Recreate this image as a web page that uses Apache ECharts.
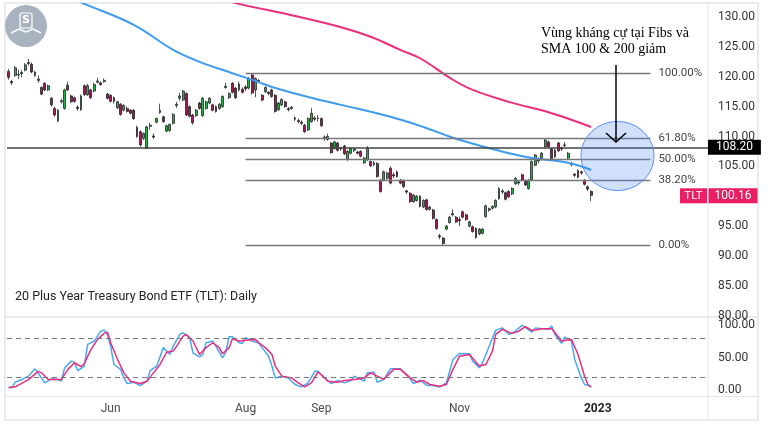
<!DOCTYPE html>
<html>
<head>
<meta charset="utf-8">
<title>TLT Daily</title>
<script src="https://cdn.jsdelivr.net/npm/echarts@6/dist/echarts.min.js"></script>
<style>
  html, body { margin: 0; padding: 0; background: #fff; }
  #chart { width: 768px; height: 432px; }
</style>
</head>
<body>
<div id="chart"></div>
<script>
// trading days (category axis), weekends and US market holidays skipped
const holidays = ['2022-05-30', '2022-06-20', '2022-07-04', '2022-09-05', '2022-11-24',
  '2022-12-26', '2023-01-02', '2023-01-16', '2023-02-20'];
function tradingDays(start, count) {
  const out = [];
  const d = new Date(start + 'T00:00:00Z');
  while (out.length < count) {
    const s = d.toISOString().slice(0, 10);
    const wd = d.getUTCDay();
    if (wd !== 0 && wd !== 6 && holidays.indexOf(s) < 0) out.push(s);
    d.setUTCDate(d.getUTCDate() + 1);
  }
  return out;
}
const dates = tradingDays('2022-04-18', 213);

const monthTicks = ['2022-06-01', '2022-08-01', '2022-09-01', '2022-11-01', '2023-01-03'];
const monthNames = ['Jun', 'Aug', 'Sep', 'Nov', '2023'];

// daily candles: [open, close, low, high]
const candles = [
  [120.9,119.9,119.5,121.3],[119.2,119.0,118.6,119.5],[120.2,121.5,120.0,121.8],[120.4,120.3,119.6,121.2],[120.5,120.7,119.9,121.1],
  [121.1,122.0,120.9,122.3],[122.2,122.4,121.9,123.0],[122.1,120.8,120.6,122.4],[120.2,120.8,120.0,121.0],[119.6,119.4,119.0,120.2],
  [118.2,117.1,116.9,118.4],[118.9,117.8,117.6,119.1],[117.8,118.5,117.6,118.7],[116.4,115.3,115.0,116.6],[114.7,113.6,113.3,115.0],
  [112.6,114.4,112.4,114.6],[115.8,116.0,115.5,116.3],[114.7,117.8,114.5,118.0],[118.6,117.8,117.6,119.2],[116.8,115.8,115.6,117.0],
  [116.5,115.9,115.6,116.7],[114.9,114.7,114.3,115.2],[114.5,116.8,114.3,117.0],[118.5,117.0,116.8,118.7],[117.0,118.5,116.8,118.8],
  [117.8,116.5,116.3,118.0],[117.6,118.7,117.4,119.0],[119.1,119.3,118.9,119.8],[119.0,118.7,118.5,119.2],[119.2,119.4,119.0,119.7],
  [117.1,116.4,116.2,117.3],[116.9,115.9,115.7,117.1],[116.5,115.9,115.5,116.7],[114.8,115.8,114.6,116.0],[115.4,113.7,113.5,115.6],
  [114.4,115.2,114.2,115.4],[114.7,114.2,114.0,115.0],[114.4,113.9,113.7,114.6],[114.4,113.0,112.8,114.6],[111.5,110.0,109.8,111.8],
  [110.8,108.6,108.3,111.0],[109.7,110.5,109.4,110.7],[108.0,111.6,107.9,111.8],[111.7,111.9,111.1,112.3],[110.1,109.9,109.6,110.5],
  [112.4,113.0,112.2,113.2],[114.0,114.4,113.8,115.5],[113.3,112.5,112.3,113.5],[110.9,111.8,110.7,112.0],[111.0,112.0,110.8,112.2],
  [112.2,113.7,112.0,113.9],[115.2,115.4,114.8,115.8],[116.4,116.8,116.0,117.3],[116.1,117.6,115.9,117.8],[117.2,113.6,113.4,117.4],
  [115.0,113.4,113.2,115.2],[113.6,112.3,112.0,113.8],[113.5,114.4,113.3,114.6],[115.6,114.7,114.5,115.8],[113.5,116.4,113.3,116.6],
  [114.7,115.8,114.5,116.0],[115.6,116.4,115.4,116.6],[115.3,114.4,114.2,115.5],[115.0,114.2,114.0,115.2],[114.7,115.4,114.5,115.6],
  [115.0,116.7,114.8,116.9],[118.2,118.4,118.0,119.0],[116.5,117.2,116.3,117.4],[118.9,117.4,117.2,119.1],[118.1,116.5,116.3,118.3],
  [117.8,118.8,117.5,119.2],[117.9,117.4,117.2,118.2],[118.3,118.0,117.6,118.6],[118.1,119.7,117.9,120.0],[120.3,117.3,117.0,120.63],
  [117.8,119.7,116.6,119.9],[119.4,119.2,118.9,119.6],[116.9,116.1,115.9,117.1],[117.5,118.2,117.3,118.4],[117.4,117.2,116.9,117.6],
  [117.8,116.7,116.5,118.0],[116.9,114.2,114.0,117.1],[114.5,115.6,114.3,115.8],[115.3,116.2,115.1,116.4],[115.8,115.0,114.8,116.0],
  [114.7,114.5,114.2,114.9],[114.9,114.7,114.5,115.1],[113.1,112.9,112.6,113.4],[112.7,112.5,112.2,113.0],[112.4,112.2,111.9,112.7],
  [111.9,110.8,110.6,112.1],[111.1,113.0,110.9,113.2],[112.5,113.9,112.3,114.8],[113.1,112.9,112.6,113.4],[113.0,113.1,112.5,113.6],
  [113.0,111.8,111.6,113.2],[109.9,109.7,109.3,110.2],[109.5,110.0,109.3,110.5],[108.9,107.3,107.1,109.1],[108.0,109.1,107.8,109.3],
  [108.9,107.7,107.5,109.1],[108.1,107.9,107.6,108.3],[108.4,107.1,106.9,108.6],[106.2,107.5,105.9,107.7],[107.2,108.0,107.0,108.2],
  [107.7,107.9,107.4,108.1],[107.4,107.2,107.0,107.6],[107.5,106.7,106.5,107.7],[105.6,106.4,105.4,106.6],[106.1,108.0,105.9,108.4],
  [105.8,105.1,104.9,106.0],[105.3,105.6,105.0,105.9],[105.5,103.3,103.1,105.7],[102.7,100.8,100.6,102.9],[102.7,104.1,102.5,104.3],
  [103.0,103.9,102.8,104.1],[104.7,102.2,102.0,105.0],[103.6,103.4,103.0,104.0],[104.1,103.3,103.1,104.3],[102.7,102.2,102.0,102.9],
  [102.6,101.6,101.4,102.8],[100.9,100.7,100.4,101.1],[100.5,99.1,98.9,100.7],[99.1,100.2,98.9,100.4],[99.3,100.0,99.1,100.2],
  [100.0,98.3,98.1,100.2],[98.2,99.3,98.0,99.5],[99.4,97.8,97.6,99.6],[97.8,98.2,97.6,98.4],[97.7,96.3,96.1,97.9],
  [96.1,94.6,94.4,96.3],[93.4,93.2,92.8,93.7],[93.0,92.1,91.84,93.2],[94.5,95.0,94.3,95.2],[95.6,96.5,95.4,96.7],
  [96.9,97.1,96.6,97.8],[96.5,95.7,95.5,96.7],[96.1,95.9,95.0,96.6],[97.4,96.5,96.3,97.6],[96.9,96.1,95.9,97.1],
  [95.0,95.7,94.8,95.9],[94.9,94.1,93.9,95.1],[94.6,93.1,92.9,94.8],[93.7,94.5,93.5,94.7],[93.8,94.5,93.6,94.7],
  [96.6,98.4,96.4,98.6],[97.9,97.7,97.4,98.1],[98.0,98.3,97.8,98.5],[98.2,99.3,98.0,99.5],[99.6,101.3,99.4,101.5],
  [100.7,100.9,100.4,101.2],[100.6,99.5,99.3,100.8],[100.8,99.9,99.7,101.0],[100.4,101.3,100.2,101.5],[102.1,103.0,101.9,103.2],
  [102.2,102.4,101.9,102.7],[103.6,102.7,102.5,103.8],[102.6,101.9,101.7,102.8],[101.3,102.7,101.1,102.9],[102.7,105.8,102.5,106.0],
  [105.2,106.9,105.0,107.1],[105.9,106.1,105.5,106.5],[106.2,107.2,106.0,107.4],[108.3,109.4,108.1,109.7],[109.1,108.3,108.1,109.3],
  [107.9,106.2,106.0,108.1],[107.7,106.6,106.4,107.9],[108.9,107.6,107.4,109.1],[108.1,107.9,107.6,108.3],[108.6,108.5,108.2,109.1],
  [106.4,107.2,106.2,107.4],[105.5,105.3,105.0,105.7],[103.7,103.5,103.2,103.9],[104.3,103.2,103.0,104.5],[104.1,103.9,103.6,104.3],
  [102.7,102.0,101.8,102.9],[101.6,101.2,100.9,101.8],[100.8,100.16,99.2,101.0]
];

// moving averages: [day index, value]
const sma100 = [[0,137.5],[23,132.2],[38,128.7],[50,124.5],[58,122.5],[68,120.6],[76,119.1],[80,118.3],
  [91,116.6],[101,115.3],[116,113.3],[126,111.6],[135,109.8],[145,108.2],[152,107.2],[159,106.4],[170,105.6],[177,104.4]];
const sma200 = [[58,134.0],[70,132.2],[86,130.3],[101,128.3],[110,126.7],[119,124.5],[125,123.1],
  [135,119.5],[141,117.8],[152,115.8],[165,113.9],[177,111.6]];

// fibonacci retracement
const fibLevels = [120.63, 109.75, 106.24, 102.75, 91.84];
const fibLabels = ['100.00%', '61.80%', '50.00%', '38.20%', '0.00%'];
const fibStart = 72, fibEnd = 195;
const markPrice = 108.20;
const lastPrice = 100.16;
const symbolName = 'TLT';

// stochastic %K / %D
const stochK = [[0,5.4],[1,4],[2,12.5],[4,16.5],[6,21.6],[8,32.8],[9,26],[11,11.5],[13,17.6],[15,16.5],[16,14],
  [17,34],[19,44.5],[20,43],[21,30],[23,37],[24,70],[26,75],[28,90],[29,91.6],[30,85],[31,67],[32,39.4],
  [34,32],[35,19],[36,10.5],[38,12.5],[40,7.4],[42,14],[43,30],[45,37],[47,65],[48,60],[49,55],[50,67],
  [52,85],[53,87.6],[55,80],[56,57],[58,51],[59,54.6],[60,72.4],[62,75],[63,67],[65,49.5],[66,58],[67,81.5],
  [68,81.5],[70,72.4],[71,71.4],[72,80],[74,75],[76,72],[77,65],[79,52],[80,37],[81,19],[83,21.6],[85,19],
  [87,9],[89,5.4],[91,11.5],[93,29],[94,29],[96,19],[98,10.5],[100,15],[102,11.5],[104,15],[105,21.6],[106,19],
  [108,14],[109,26.7],[111,27.7],[112,12.5],[114,16.5],[116,32.8],[119,32.8],[121,24],[123,10.5],[125,15.5],
  [127,8],[129,7.4],[131,5],[133,11.5],[135,47],[137,56],[140,55.6],[141,44.5],[143,34.3],[144,42],[146,67],
  [148,91.6],[150,95],[152,85],[154,90],[156,99],[159,88.6],[160,95],[164,92.7],[165,97.7],[166,85],[168,71.4],
  [169,81],[171,75],[172,47],[174,19],[175,9],[176,8],[177,5]];
const stochD = [[0,4],[2,5.4],[6,16.5],[9,29],[10,26.7],[12,16.5],[14,16.5],[16,16.5],[18,32],[20,42],[22,36],
  [23,41],[25,62],[27,77.5],[29,86.6],[30,88.6],[31,72.4],[33,48],[35,26.7],[37,14],[40,10.5],[42,14],[44,26.7],
  [46,39.4],[48,58],[50,59.7],[51,67],[53,82.5],[54,85],[56,75],[58,54.6],[60,65],[62,72.4],[64,65],[65,55.6],
  [67,65],[68,78.5],[70,75],[73,76.5],[75,77.5],[76,72.4],[78,65],[80,54.6],[81,37],[83,21.6],[86,19],[88,11.5],
  [90,5.4],[92,11.5],[94,28],[95,24],[97,14],[100,12.5],[102,15],[105,16.5],[107,17.6],[108,19],[110,26.7],
  [112,21.6],[114,17],[117,32],[119,32],[122,19],[124,12.5],[126,15],[128,9],[131,6.4],[133,9],[135,32],[137,52],
  [140,54.6],[143,37],[145,39.4],[147,59.7],[148,85],[150,92.7],[153,86.6],[155,90],[157,96.8],[159,91],[162,93.7],
  [165,93.7],[166,87.6],[168,75],[171,77.5],[173,54.6],[175,21.6],[176,9],[177,5.4]];
const stochBands = [80, 20];

const axisFont = 'Roboto, "Liberation Sans", sans-serif';
const pink = '#e91e63';

const fibMarks = fibLevels.map((lv, k) => [
  { coord: [fibStart, lv], label: { formatter: fibLabels[k] } },
  { coord: [fibEnd, lv] }
]);

const chart = echarts.init(document.getElementById('chart'));

const option = {
  animation: false,
  backgroundColor: '#ffffff',
  grid: [
    { left: 7, width: 701, top: 4, height: 311.75, outerBoundsMode: 'none' },
    { left: 7, width: 701, top: 318, height: 79, outerBoundsMode: 'none' }
  ],
  xAxis: [
    {
      gridIndex: 0, type: 'category', data: dates, boundaryGap: true,
      axisLine: { show: false }, axisTick: { show: false }, axisLabel: { show: false }, splitLine: { show: false }
    },
    {
      gridIndex: 1, type: 'category', data: dates, boundaryGap: true,
      axisLine: { show: false }, axisTick: { show: false }, splitLine: { show: false },
      axisLabel: {
        margin: 6, fontSize: 12, color: '#4a4a4a', fontFamily: axisFont,
        interval: (idx, val) => monthTicks.indexOf(val) >= 0,
        formatter: val => {
          const k = monthTicks.indexOf(val);
          if (k < 0) return '';
          return monthNames[k] === '2023' ? '{b|2023}' : monthNames[k];
        },
        rich: { b: { fontWeight: 'bold', color: '#222', fontSize: 12, fontFamily: axisFont } }
      }
    }
  ],
  yAxis: [
    {
      gridIndex: 0, type: 'value', position: 'right', min: 80, max: 132.18, interval: 5, scale: true,
      axisLine: { show: false }, axisTick: { show: false }, splitLine: { show: false },
      axisLabel: {
        margin: 10, fontSize: 12, color: '#333', fontFamily: axisFont,
        formatter: v => (Math.abs(v % 5) < 1e-6 ? v.toFixed(2) : '')
      }
    },
    {
      gridIndex: 1, type: 'value', position: 'right', min: -10, max: 110, interval: 10,
      axisLine: { show: false }, axisTick: { show: false }, splitLine: { show: false },
      axisLabel: {
        margin: 10, fontSize: 12, color: '#333', fontFamily: axisFont,
        formatter: v => ([0, 50, 100].indexOf(Math.round(v * 1000) / 1000) >= 0 ? v.toFixed(2) : '')
      }
    }
  ],
  series: [
    {
      name: 'TLT', type: 'candlestick', xAxisIndex: 0, yAxisIndex: 0,
      data: candles, barWidth: 2.4,
      itemStyle: { color: '#2bb14c', color0: '#a3185a', borderColor: '#111', borderColor0: '#111', borderWidth: 0.7 },
      markLine: {
        silent: true, symbol: ['none', 'none'], animation: false,
        lineStyle: { color: '#777', width: 1.4, type: 'solid' },
        label: { position: 'end', distance: 8, fontSize: 11.5, color: '#444', fontFamily: axisFont },
        data: fibMarks.concat([
          {
            yAxis: markPrice,
            lineStyle: { color: '#444', width: 1.5, type: 'solid' },
            label: {
              position: 'end', distance: 0, formatter: markPrice.toFixed(2),
              backgroundColor: '#000', color: '#fff', padding: [2, 8, 1, 8], fontSize: 12, fontFamily: axisFont
            }
          }
        ])
      }
    },
    {
      name: 'SMA 100', type: 'line', xAxisIndex: 0, yAxisIndex: 0, data: sma100,
      smooth: 0.4, symbol: 'none', clip: true, lineStyle: { color: '#3d9bf0', width: 2 }, z: 3
    },
    {
      name: 'SMA 200', type: 'line', xAxisIndex: 0, yAxisIndex: 0, data: sma200,
      smooth: 0.4, symbol: 'none', clip: true, lineStyle: { color: '#ee2d7c', width: 2 }, z: 3
    },
    {
      name: '%K', type: 'line', xAxisIndex: 1, yAxisIndex: 1, data: stochK,
      symbol: 'none', lineStyle: { color: '#47a8f5', width: 1.5 },
      markLine: {
        silent: true, symbol: ['none', 'none'], label: { show: false },
        lineStyle: { color: '#787878', type: [5, 4], width: 1 },
        data: stochBands.map(v => ({ yAxis: v }))
      }
    },
    {
      name: '%D', type: 'line', xAxisIndex: 1, yAxisIndex: 1, data: stochD,
      symbol: 'none', lineStyle: { color: '#ee2d7c', width: 1.5 }
    }
  ]
};

chart.setOption(option);

// positions taken from the chart's own scales
const ctr = chart.convertToPixel({ gridIndex: 0 }, [185, 106.74]);
const yLast = chart.convertToPixel({ yAxisIndex: 0 }, lastPrice);
const frameC = '#e3e5ea';

chart.setOption({
  graphic: [
    { type: 'rect', shape: { x: 5, y: 3, width: 753, height: 417 }, style: { fill: 'none', stroke: frameC, lineWidth: 1.5 }, silent: true },
    { type: 'line', shape: { x1: 708, y1: 3, x2: 708, y2: 420 }, style: { stroke: frameC, lineWidth: 1 }, silent: true },
    { type: 'line', shape: { x1: 5, y1: 317, x2: 758, y2: 317 }, style: { stroke: frameC, lineWidth: 1.5 }, silent: true },
    { type: 'line', shape: { x1: 5, y1: 396.5, x2: 758, y2: 396.5 }, style: { stroke: frameC, lineWidth: 1 }, silent: true },
    // logo
    { type: 'circle', shape: { cx: 26, cy: 26, r: 21 }, style: { fill: '#a9b3c0' }, silent: true },
    { type: 'polyline', shape: { points: [[11, 33], [19, 29], [26, 32], [33, 29], [41, 33]] }, style: { stroke: '#fff', lineWidth: 1.5, fill: 'none' }, silent: true },
    { type: 'rect', shape: { x: 20, y: 13, width: 12, height: 15, r: 2 }, style: { fill: 'none', stroke: '#fff', lineWidth: 1.2 }, silent: true },
    { type: 'text', x: 26, y: 20.5, style: { text: 'S', fill: '#fff', fontSize: 11, fontWeight: 'bold', fontFamily: 'DejaVu Sans', align: 'center', verticalAlign: 'middle' }, silent: true },
    // chart title
    { type: 'text', x: 15, y: 297, style: { text: '20 Plus Year Treasury Bond ETF (TLT): Daily', fill: '#222', fontSize: 12.5, fontFamily: axisFont, verticalAlign: 'middle' }, silent: true },
    // last price tags
    { type: 'rect', shape: { x: 680, y: yLast - 7, width: 27, height: 15 }, style: { fill: pink }, z: 20, silent: true },
    { type: 'text', x: 693.5, y: yLast + 0.5, style: { text: symbolName, fill: '#fff', fontSize: 11.5, fontFamily: axisFont, align: 'center', verticalAlign: 'middle' }, z: 21, silent: true },
    { type: 'rect', shape: { x: 708.5, y: yLast - 7, width: 49, height: 15 }, style: { fill: pink }, z: 20, silent: true },
    { type: 'text', x: 733, y: yLast + 0.5, style: { text: lastPrice.toFixed(2), fill: '#fff', fontSize: 12, fontFamily: axisFont, align: 'center', verticalAlign: 'middle' }, z: 21, silent: true },
    // annotation
    { type: 'ellipse', shape: { cx: ctr[0], cy: ctr[1], rx: 36.5, ry: 34.5 }, style: { fill: 'rgba(66,133,244,0.25)', stroke: '#5b8ef0', lineWidth: 1 }, z: 10, silent: true },
    { type: 'text', x: 541, y: 33, style: { text: 'Vùng kháng cự tại Fibs và', fill: '#000', fontSize: 14, fontFamily: '"Liberation Serif", serif', verticalAlign: 'middle' }, silent: true },
    { type: 'text', x: 541, y: 49, style: { text: 'SMA 100 & 200 giảm', fill: '#000', fontSize: 14, fontFamily: '"Liberation Serif", serif', verticalAlign: 'middle' }, silent: true },
    { type: 'line', shape: { x1: 616, y1: 65, x2: 616, y2: 142 }, style: { stroke: '#000', lineWidth: 1.5 }, z: 11, silent: true },
    { type: 'polyline', shape: { points: [[606, 133], [616, 142], [626, 133]] }, style: { stroke: '#000', lineWidth: 1.5, fill: 'none' }, z: 11, silent: true }
  ]
});

window.addEventListener('resize', function () { chart.resize(); });
</script>
</body>
</html>
